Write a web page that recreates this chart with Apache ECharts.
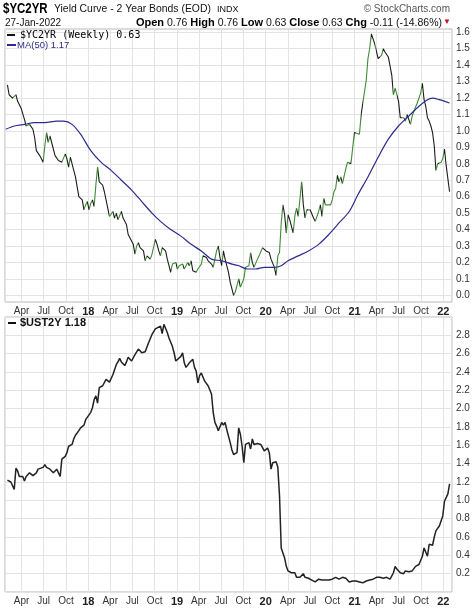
<!DOCTYPE html>
<html><head><meta charset="utf-8">
<script src="https://cdn.jsdelivr.net/npm/echarts@6/dist/echarts.min.js"></script>
<style>html,body{margin:0;padding:0;background:#fff}#c{width:474px;height:608px}</style>
</head><body><div id="c"></div>
<script>
// weekly data; week index counted from the first week (2017-02-02)
const startDate = [2017, 1, 2];
const ycWeeks = [0,1,3,5,6,8,10,11,13,15,16,17,19,21,22,23,24,25,27,28,30,32,34,35,36,37,39,40,42,44,45,46,47,48,49,50,51,52,53,54,56,57,58,59,60,62,63,64,65,67,68,70,71,73,74,75,76,77,78,80,81,82,84,85,87,88,89,90,91,93,94,95,96,97,99,100,101,103,104,106,107,108,109,111,112,114,115,117,118,120,121,123,124,125,126,127,128,130,131,133,134,136,137,139,140,142,143,144,145,147,148,150,151,152,154,155,157,158,159,160,161,162,163,164,165,166,168,169,170,171,172,173,174,175,176,177,178,180,181,183,184,185,186,187,188,190,191,192,193,194,195,196,197,198,199,200,201,202,203,204,205,207,208,209,210,211,212,213,214,215,216,217,218,219,220,221,222,223,224,225,226,227,228,229,230,231,232,233,234,235,236,237,238,239,240,241,242,243,244,245,246,247,248,249,250,251,252,253,254,255,256,257,258,259,260];
const ycValues = [1.28,1.22,1.20,1.22,1.18,1.14,1.07,1.03,1.04,1.01,0.96,0.88,0.85,0.81,0.91,0.99,0.93,0.97,0.89,0.85,0.82,0.81,0.86,0.83,0.78,0.84,0.76,0.72,0.60,0.58,0.52,0.55,0.57,0.52,0.56,0.58,0.54,0.67,0.78,0.69,0.67,0.63,0.58,0.53,0.48,0.51,0.47,0.50,0.46,0.51,0.47,0.43,0.37,0.33,0.31,0.25,0.30,0.32,0.29,0.27,0.21,0.24,0.22,0.25,0.34,0.31,0.27,0.24,0.29,0.27,0.22,0.18,0.14,0.19,0.20,0.16,0.18,0.19,0.16,0.20,0.18,0.21,0.15,0.14,0.16,0.19,0.24,0.23,0.21,0.19,0.17,0.27,0.30,0.23,0.18,0.27,0.22,0.14,0.08,0.00,0.02,0.10,0.05,0.10,0.17,0.18,0.26,0.20,0.17,0.22,0.24,0.29,0.28,0.27,0.26,0.22,0.17,0.12,0.24,0.26,0.44,0.55,0.49,0.38,0.49,0.46,0.38,0.48,0.53,0.48,0.48,0.69,0.55,0.47,0.52,0.51,0.52,0.47,0.45,0.51,0.55,0.48,0.59,0.55,0.55,0.55,0.58,0.63,0.65,0.73,0.69,0.72,0.68,0.68,0.77,0.81,0.82,0.80,0.81,0.99,0.98,0.98,1.10,1.09,1.24,1.31,1.44,1.50,1.59,1.56,1.53,1.53,1.44,1.43,1.46,1.50,1.48,1.47,1.45,1.44,1.34,1.22,1.26,1.27,1.18,1.08,1.07,1.08,1.06,1.10,1.07,1.04,1.09,1.12,1.13,1.17,1.18,1.23,1.29,1.19,1.15,1.08,1.06,1.03,0.99,0.91,0.76,0.80,0.79,0.81,0.83,0.89,0.79,0.71,0.63];
const maWeeks = [-1,4,10,16,22,29,33,38,43,49,55,61,67,73,79,85,90,96,102,108,114,120,126,132,136,141,146,151,157,161,165,171,177,183,189,195,201,206,212,218,224,230,236,242,247,250,254,260];
const maValues = [1.01,1.03,1.04,1.05,1.05,1.06,1.06,1.04,0.98,0.88,0.81,0.76,0.70,0.64,0.57,0.50,0.45,0.40,0.36,0.31,0.27,0.22,0.21,0.19,0.18,0.16,0.16,0.17,0.17,0.18,0.21,0.24,0.27,0.31,0.37,0.44,0.51,0.61,0.72,0.84,0.95,1.03,1.09,1.15,1.19,1.20,1.19,1.17];
const ustWeeks = [0,1,2,4,5,6,7,9,10,11,13,14,15,17,18,19,21,22,23,25,26,27,29,30,31,32,34,35,36,38,39,40,42,43,45,46,47,49,50,51,52,53,54,56,57,58,60,61,62,64,65,66,67,69,70,71,73,74,75,77,78,79,81,82,83,85,86,87,88,90,91,92,93,94,95,97,98,99,100,102,103,104,105,107,108,109,110,111,112,113,114,115,116,117,118,120,121,122,123,124,126,127,128,129,131,132,133,134,135,136,137,138,139,140,141,142,143,144,145,146,147,149,150,151,152,153,154,155,156,158,159,160,161,162,163,164,165,166,167,168,169,170,171,172,173,174,175,176,177,178,179,180,181,182,183,184,185,186,187,188,189,190,191,192,193,194,195,196,197,198,199,200,201,202,203,204,205,206,207,208,209,210,211,212,213,214,215,216,217,218,219,220,221,222,223,224,225,226,227,228,229,230,231,232,233,234,235,236,237,238,239,240,241,242,243,244,245,246,247,248,249,250,251,252,253,254,255,256,257,258,259,260];
const ustValues = [1.22,1.21,1.20,1.12,1.35,1.32,1.26,1.26,1.21,1.26,1.30,1.28,1.27,1.30,1.34,1.32,1.36,1.39,1.36,1.34,1.35,1.30,1.34,1.36,1.26,1.45,1.48,1.52,1.59,1.61,1.67,1.71,1.76,1.79,1.82,1.88,1.90,1.96,2.01,2.10,2.14,2.06,2.23,2.25,2.27,2.32,2.29,2.27,2.37,2.48,2.51,2.55,2.51,2.47,2.51,2.56,2.52,2.54,2.59,2.65,2.63,2.61,2.62,2.63,2.72,2.81,2.82,2.87,2.87,2.90,2.82,2.92,2.94,2.83,2.77,2.68,2.61,2.52,2.54,2.57,2.61,2.50,2.45,2.50,2.52,2.54,2.45,2.41,2.28,2.36,2.39,2.37,2.30,2.32,2.25,2.16,1.96,1.85,1.81,1.76,1.85,1.82,1.85,1.77,1.63,1.55,1.50,1.51,1.52,1.79,1.72,1.59,1.41,1.61,1.59,1.63,1.56,1.67,1.61,1.62,1.62,1.61,1.62,1.54,1.56,1.57,1.52,1.34,1.41,1.42,1.36,1.05,0.48,0.48,0.37,0.28,0.23,0.22,0.21,0.19,0.21,0.16,0.16,0.16,0.16,0.20,0.16,0.16,0.15,0.14,0.13,0.12,0.11,0.13,0.14,0.15,0.13,0.14,0.13,0.12,0.13,0.12,0.14,0.13,0.16,0.16,0.14,0.16,0.16,0.16,0.15,0.15,0.11,0.12,0.12,0.13,0.12,0.12,0.11,0.09,0.10,0.11,0.12,0.13,0.13,0.15,0.14,0.16,0.16,0.16,0.16,0.16,0.15,0.16,0.16,0.14,0.14,0.15,0.21,0.28,0.25,0.24,0.21,0.19,0.20,0.23,0.23,0.22,0.21,0.23,0.25,0.28,0.27,0.30,0.32,0.39,0.48,0.47,0.39,0.52,0.51,0.51,0.60,0.67,0.69,0.72,0.73,0.83,0.99,1.01,1.07,1.18];
const monthNames = ['Jan','Feb','Mar','Apr','May','Jun','Jul','Aug','Sep','Oct','Nov','Dec'];
const axisStart = [2017, 0, 23];
const axisEnd = [2022, 1, 6];
const topTicks = {min: 0, max: 1.6, step: 0.1};
const bottomTicks = {min: 0, max: 3.0, step: 0.2};

const DAY = 86400000;
const T0 = Date.UTC(startDate[0], startDate[1], startDate[2]);
const toTime = w => T0 + w * 7 * DAY;
const ycData = ycWeeks.map((w, i) => [toTime(w), ycValues[i]]);
const maData = maWeeks.map((w, i) => [toTime(w), maValues[i]]);
const ustData = ustWeeks.map((w, i) => [toTime(w), ustValues[i]]);
const xMin = Date.UTC(axisStart[0], axisStart[1], axisStart[2]);
const xMax = Date.UTC(axisEnd[0], axisEnd[1], axisEnd[2]);

const UP = '#3f8a36', DOWN = '#1c1c1c', MA = '#2c2c8c';
const pieces = [];
for (let i = 1; i < ycData.length; i++) {
  pieces.push({gte: ycData[i-1][0], lt: ycData[i][0], color: ycValues[i] >= ycValues[i-1] ? UP : DOWN});
}
pieces.push({gte: ycData[ycData.length-1][0], color: DOWN});

const FONT = 'Liberation Sans, Arial, sans-serif';
const GRIDC = '#e3e3e3';
const xLabel = {
  fontSize: 10, color: '#333', fontFamily: FONT, margin: 4,
  formatter: function (v) {
    const d = new Date(v); const m = d.getUTCMonth();
    if (m === 0) return '{yr|' + String(d.getUTCFullYear()).slice(2) + '}';
    return monthNames[m];
  },
  rich: {yr: {fontWeight: 'bold', fontSize: 11, color: '#222', fontFamily: FONT}}
};
function timeAxis(gridIndex, show) {
  return {
    type: 'time', gridIndex: gridIndex, min: xMin, max: xMax, show: show, splitNumber: 15,
    axisLine: {show: false}, axisTick: {show: false},
    splitLine: {show: true, lineStyle: {color: GRIDC, width: 1}},
    axisLabel: xLabel
  };
}
const last = a => a[a.length - 1];

const chart = echarts.init(document.getElementById('c'), null, {renderer: 'canvas'});
chart.setOption({
  useUTC: true,
  animation: false,
  backgroundColor: '#fff',
  grid: [
    {left: 5, right: 22, top: 29, height: 273, show: true, borderColor: '#b8b8b8', borderWidth: 1},
    {left: 5, right: 22, top: 32.3, height: 263, show: false},
    {left: 5, right: 22, top: 317, height: 275, show: true, borderColor: '#b8b8b8', borderWidth: 1}
  ],
  xAxis: [timeAxis(0, true), timeAxis(1, false), timeAxis(2, true)],
  yAxis: [
    {type: 'value', gridIndex: 0, min: 0, max: 1, show: false},
    {type: 'value', gridIndex: 1, position: 'right', min: topTicks.min, max: topTicks.max, interval: topTicks.step,
     axisLine: {show: false}, axisTick: {show: false},
     splitLine: {lineStyle: {color: GRIDC}},
     axisLabel: {fontSize: 10, color: '#333', fontFamily: FONT, margin: 4, formatter: v => v.toFixed(1)}},
    {type: 'value', gridIndex: 2, position: 'right', min: bottomTicks.min, max: bottomTicks.max, interval: bottomTicks.step,
     axisLine: {show: false}, axisTick: {show: false},
     splitLine: {lineStyle: {color: GRIDC}},
     axisLabel: {fontSize: 10, color: '#333', fontFamily: FONT, margin: 4,
       formatter: v => (v <= bottomTicks.min + 1e-9 || v >= bottomTicks.max - 1e-9) ? '' : v.toFixed(1)}}
  ],
  visualMap: [{type: 'piecewise', show: false, seriesIndex: 0, dimension: 0, pieces: pieces, outOfRange: {color: DOWN}}],
  series: [
    {name: '$YC2YR', type: 'line', xAxisIndex: 1, yAxisIndex: 1, data: ycData, showSymbol: false, clip: false,
     lineStyle: {width: 1.1}},
    {name: 'MA(50)', type: 'line', xAxisIndex: 1, yAxisIndex: 1, data: maData, showSymbol: false, smooth: 0.3,
     lineStyle: {width: 1.2, color: MA}, itemStyle: {color: MA}},
    {name: '$UST2Y', type: 'line', xAxisIndex: 2, yAxisIndex: 2, data: ustData, showSymbol: false,
     lineStyle: {width: 1.5, color: '#222'}, itemStyle: {color: '#222'}}
  ],
  graphic: [
    {type: 'text', z: 100, x: 3, y: 9, scaleX: 0.82, style: {text: '$YC2YR', font: 'bold 14px ' + FONT, fill: '#000', verticalAlign: 'middle'}},
    {type: 'text', z: 100, x: 54, y: 9, style: {text: 'Yield Curve - 2 Year Bonds (EOD)', font: '10.4px ' + FONT, fill: '#111', verticalAlign: 'middle'}},
    {type: 'text', z: 100, x: 217, y: 9.5, style: {text: 'INDX', font: '9px ' + FONT, fill: '#111', verticalAlign: 'middle'}},
    {type: 'text', z: 100, x: 450, y: 9, style: {text: '\u00A9 StockCharts.com', font: '10px ' + FONT, fill: '#555', align: 'right', verticalAlign: 'middle'}},
    {type: 'text', z: 100, x: 5, y: 23, style: {text: '27-Jan-2022', font: '10px ' + FONT, fill: '#111', verticalAlign: 'middle'}},
    {type: 'text', z: 100, x: 442, y: 23, style: {
      text: '{b|Open} 0.76 {b|High} 0.76 {b|Low} 0.63 {b|Close} 0.63 {b|Chg} -0.11 (-14.86%)',
      font: '10.5px ' + FONT, fill: '#111', align: 'right', verticalAlign: 'middle',
      rich: {b: {font: 'bold 11px ' + FONT, fill: '#000'}}}},
    {type: 'text', z: 100, x: 447, y: 22, style: {text: '\u25BC', font: '8px ' + FONT, fill: '#c0142a', align: 'center', verticalAlign: 'middle'}},
    {type: 'rect', z: 100, shape: {x: 7, y: 34, width: 8, height: 2}, style: {fill: '#111'}},
    {type: 'text', z: 100, x: 20, y: 35, style: {text: '$YC2YR (Weekly) ' + last(ycValues).toFixed(2), font: '10px DejaVu Sans Mono, monospace', fill: '#000', verticalAlign: 'middle'}},
    {type: 'rect', z: 100, shape: {x: 7, y: 44, width: 9, height: 2}, style: {fill: MA}},
    {type: 'text', z: 100, x: 17, y: 45, style: {text: 'MA(50) ' + last(maValues).toFixed(2), font: '9.5px ' + FONT, fill: MA, verticalAlign: 'middle'}},
    {type: 'rect', z: 100, shape: {x: 8, y: 322, width: 8, height: 2}, style: {fill: '#111'}},
    {type: 'text', z: 100, x: 20, y: 323, style: {text: '$UST2Y ' + last(ustValues).toFixed(2), font: 'bold 11px ' + FONT, fill: '#111', verticalAlign: 'middle'}}
  ]
});
</script></body></html>
